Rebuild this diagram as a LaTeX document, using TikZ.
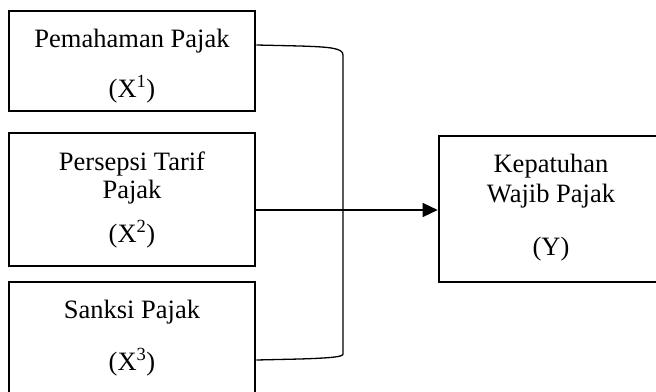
\documentclass[tikz,border=0pt]{standalone}
\usepackage{fontspec}
\setmainfont{Liberation Serif}
\usetikzlibrary{arrows.meta}
\begin{document}
\begin{tikzpicture}[x=1pt,y=-1pt,
  varbox/.style={draw=black,line width=2.6pt,rectangle,inner sep=0pt},
  lbl/.style={anchor=base,inner sep=0pt,font=\fontsize{26.5}{30}\selectfont},
  link/.style={draw=black,line width=1.3pt},
  arr/.style={link,-{Triangle[length=15pt,width=14pt]}}]
\useasboundingbox (0,0) rectangle (656,391);
\clip (0,0) rectangle (656,391);
% variable boxes
\node[varbox,minimum width=246pt,minimum height=100pt] (b1) at (132,61) {};
\node[varbox,minimum width=246pt,minimum height=133pt] (b2) at (132,199.5) {};
\node[varbox,minimum width=246pt,minimum height=120pt] (b3) at (132,342) {};
\node[varbox,minimum width=226pt,minimum height=146pt] (by) at (552,209) {};
% labels
\node[lbl] (t1a) at (132,47) {Pemahaman Pajak};
\node[lbl] (t1b) at (132,97) {(X\textsuperscript{1})};
\node[lbl] (t2a) at (132,170) {Persepsi Tarif};
\node[lbl] (t2b) at (132,198) {Pajak};
\node[lbl] (t2c) at (132,242) {(X\textsuperscript{2})};
\node[lbl] (t3a) at (132,318) {Sanksi Pajak};
\node[lbl] (t3b) at (132,370) {(X\textsuperscript{3})};
\node[lbl] (tya) at (551,172) {Kepatuhan};
\node[lbl] (tyb) at (551,202) {Wajib Pajak};
\node[lbl] (tyc) at (551,255) {(Y)};
% bracket joining the three inputs
\coordinate (c1) at ([yshift=16pt]b1.east);
\coordinate (c3) at ([yshift=-18pt]b3.east);
\coordinate (c2) at ([yshift=-10.5pt]b2.east);
\coordinate (k1) at (343,55);
\coordinate (k2) at (343,354);
\draw[link] (c1) -- (300,46) .. controls (330,47) and (343,48) .. (k1)
  -- (k2) .. controls (343,357) and (330,358) .. (300,359) -- (c3);
% arrow to the dependent variable
\draw[arr] (c2) -- (c2 -| by.west);
\end{tikzpicture}
\end{document}
